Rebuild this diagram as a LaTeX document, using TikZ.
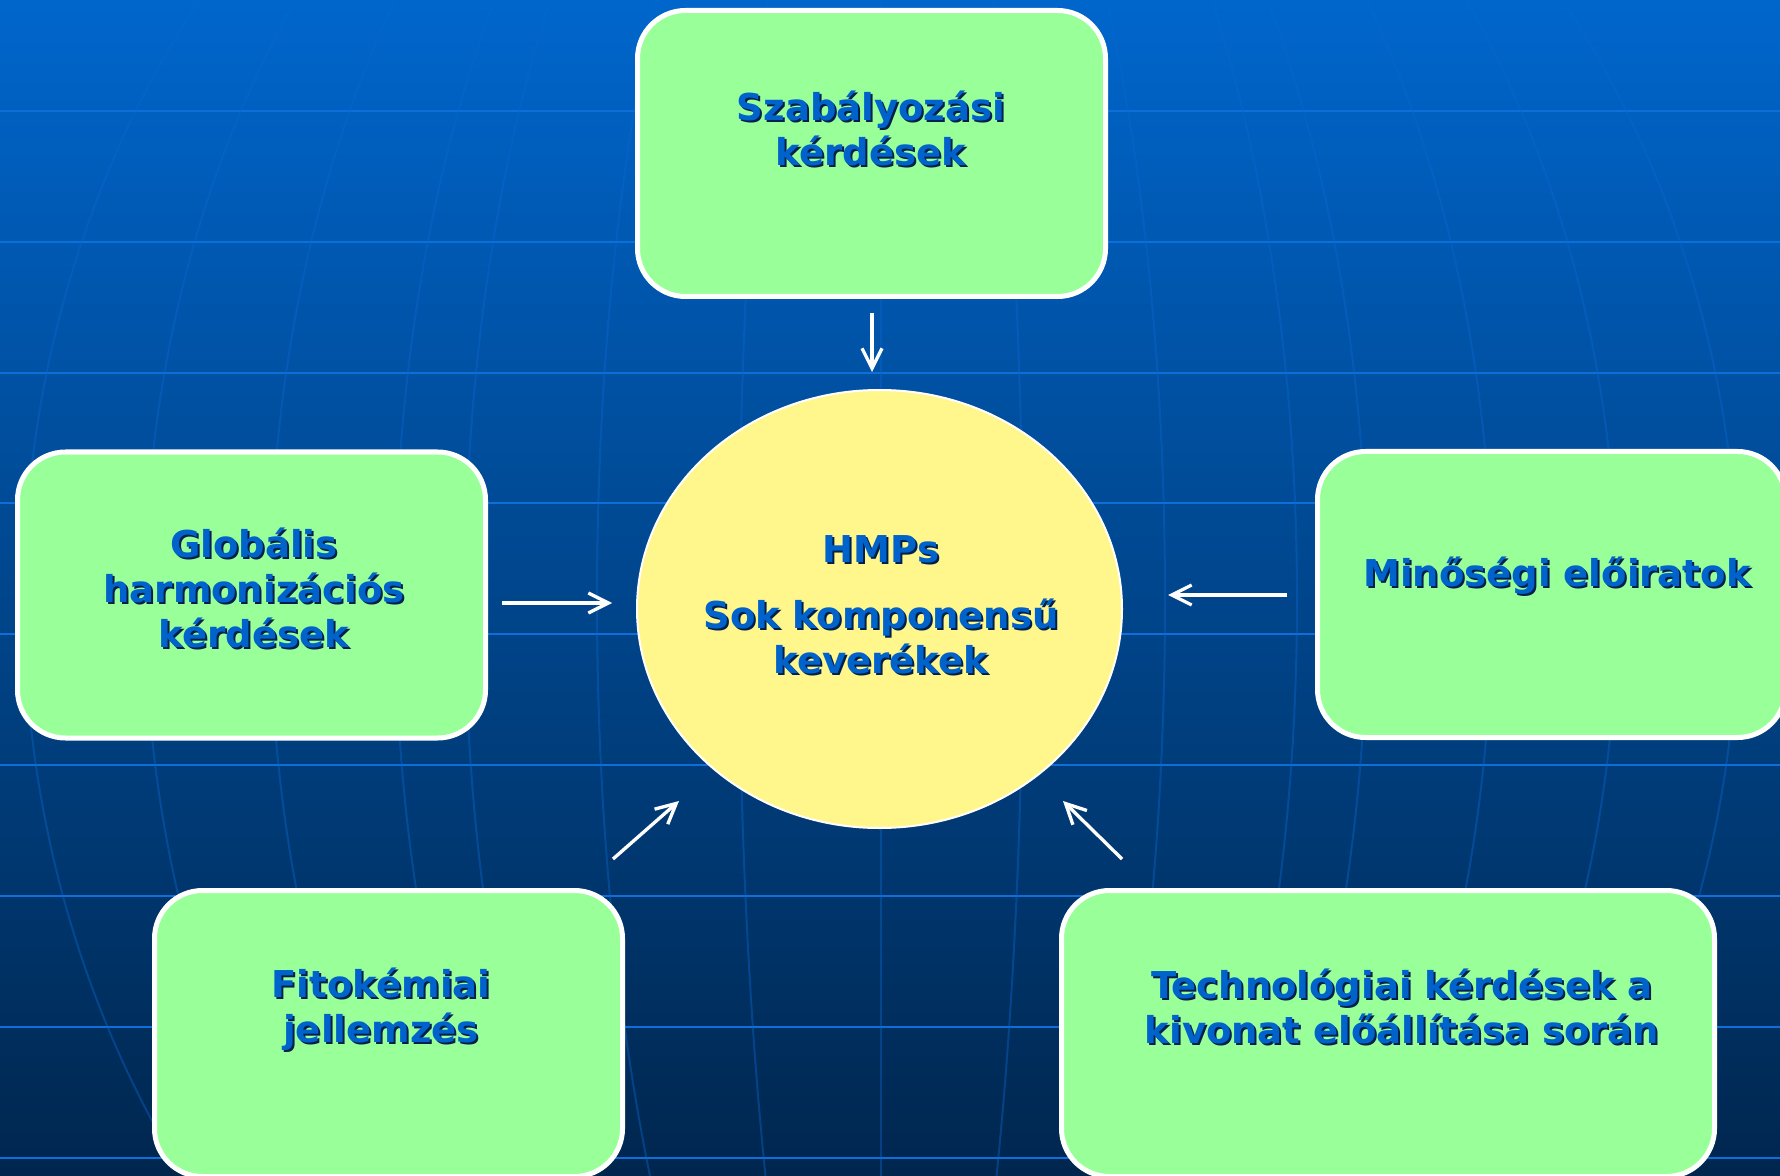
\documentclass[tikz,border=0pt]{standalone}
\usepackage{fontspec}
\newfontfamily\vfont{DejaVu Sans}
\usetikzlibrary{shapes.geometric,arrows.meta,fadings}
\definecolor{bgtop}{HTML}{0066CC}
\definecolor{bgmid}{HTML}{004C9C}
\definecolor{bgbot}{HTML}{00264E}
\definecolor{gridc}{HTML}{0E6FDA}
\definecolor{meridc}{HTML}{0C66D0}
\definecolor{boxgreen}{HTML}{99FF99}
\definecolor{ellyellow}{HTML}{FFF78C}
\definecolor{txtblue}{HTML}{0063CC}
\definecolor{shd}{HTML}{00204A}
\newcommand\shl[1]{\leavevmode\rlap{\kern1.5pt\raisebox{-1.5pt}{\textcolor{shd}{#1}}}#1}
\begin{document}
\begin{tikzpicture}[x=0.75pt,y=-0.75pt,
  box/.style={draw=white, line width=3.75pt, fill=boxgreen, rounded corners=36pt,
    minimum width=351pt, minimum height=214.5pt, inner sep=0pt},
  lbl/.style={font=\vfont\bfseries\fontsize{27.75pt}{33.75pt}\selectfont, text=txtblue,
    align=center, inner sep=0pt, anchor=base},
  arr/.style={draw=white, line width=2.5pt, -{Straight Barb[length=15pt,width=15pt]}},
  gridl/.style={draw=gridc, line width=2pt},
  merid/.style={draw=meridc, line width=1.5pt}]
\useasboundingbox (0,0) rectangle (1780,1176);
\begin{scope}
  \clip (0,0) rectangle (1780,1176);
  \shade[top color=bgtop, middle color=bgmid, bottom color=bgbot] (0,0) rectangle (1780,1176);
  \foreach \yy in {111,242,373,503,634,765,896,1027,1158}
    \draw[gridl] (0,\yy) -- (1780,\yy);
  \begin{scope}[opacity=0.4]
    \foreach \aa in {142,284,416,486,611,736,857}
      \draw[merid] (881,600) ellipse [x radius=\aa, y radius=990];
    \draw[merid] (881,0) -- (881,1176);
  \end{scope}
\end{scope}

\node[box] (reg) at (871.5,153.5) {};
\node[box] (glob) at (251.5,595) {};
\node[box] (min) at (1551.5,594.5) {};
\node[box] (fito) at (388.5,1033.5) {};
\node[box, minimum width=489.75pt] (tech) at (1388,1033.5) {};
\node[ellipse, draw=white, line width=1.5pt, fill=ellyellow, minimum width=363.75pt,
  minimum height=328.5pt, inner sep=0pt] (hmp) at (879.5,609) {};

\node[lbl] (regT) at (871,166) {\shl{Szabályozási}\\\shl{kérdések}};
\node[lbl] (globT) at (254,647) {\shl{Globális}\\\shl{harmonizációs}\\\shl{kérdések}};
\node[lbl] (minT) at (1557,586) {\shl{Minőségi előiratok}};
\node[lbl] (fitoT) at (381,1042) {\shl{Fitokémiai}\\\shl{jellemzés}};
\node[lbl] (techT) at (1402,1043) {\shl{Technológiai kérdések a}\\\shl{kivonat előállítása során}};
\node[lbl] (hmpT) at (881,673) {\shl{HMPs}\\[15.75pt]\shl{Sok komponensű}\\\shl{keverékek}};

\coordinate (a1s) at (872,313); \coordinate (a1e) at (872,372);
\coordinate (a2s) at (502,603); \coordinate (a2e) at (612,603);
\coordinate (a3s) at (1287,595); \coordinate (a3e) at (1168,595);
\coordinate (a4s) at (613,859); \coordinate (a4e) at (679,801);
\coordinate (a5s) at (1122,859); \coordinate (a5e) at (1063,801);
\draw[arr] (a1s) -- (a1e);
\draw[arr] (a2s) -- (a2e);
\draw[arr] (a3s) -- (a3e);
\draw[arr] (a4s) -- (a4e);
\draw[arr] (a5s) -- (a5e);
\end{tikzpicture}
\end{document}
